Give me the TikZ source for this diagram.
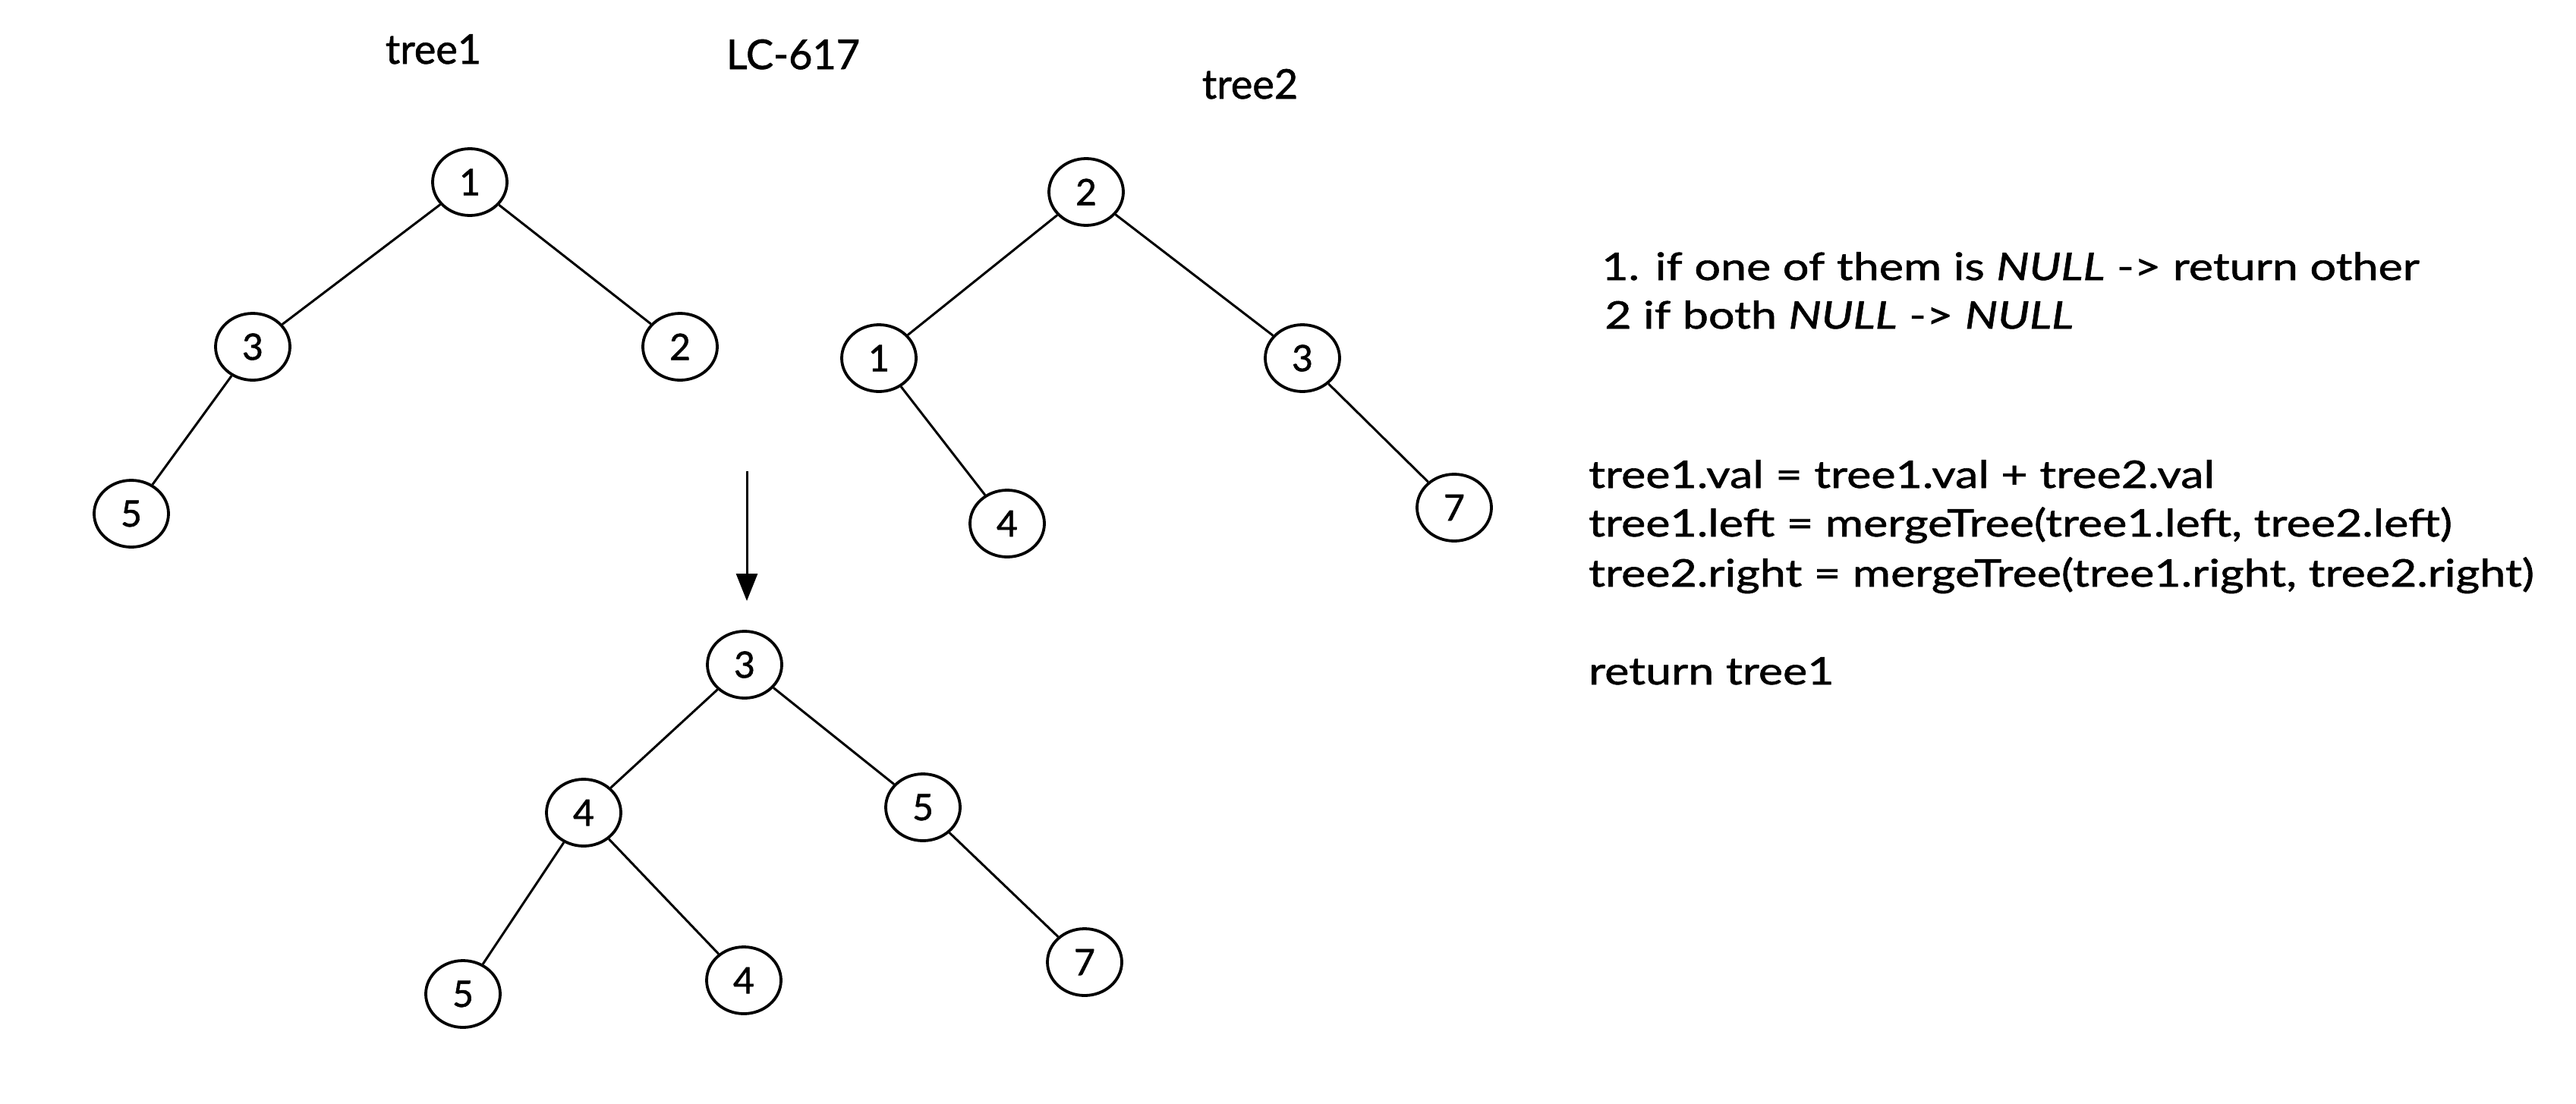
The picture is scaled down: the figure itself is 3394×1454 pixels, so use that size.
\documentclass[tikz,border=0pt]{standalone}
\usepackage{fontspec}
\setmainfont{Lato}[FakeBold=1.2]
\newfontfamily\codefont{Lato}[FakeStretch=1.22,FakeBold=1.2]
\usetikzlibrary{arrows.meta,shapes.geometric}
\begin{document}
\begin{tikzpicture}[x=1pt,y=-1pt,
  tn/.style={draw, ellipse, line width=3.8pt, minimum width=98pt, minimum height=88pt, inner sep=0pt, font=\fontsize{48}{52}\selectfont},
  edge/.style={line width=3pt},
  lbl/.style={font=\fontsize{54}{60}\selectfont, anchor=base},
  code/.style={font=\codefont\fontsize{50}{56}\selectfont, anchor=base west, inner sep=0pt}]
\useasboundingbox[fill=white] (0,0) rectangle (3394,1454);
% titles
\node[lbl] (t1lbl) at (571,84) {tree1};
\node[lbl] (lc) at (1045,91) {LC-617};
\node[lbl] (t2lbl) at (1647,130) {tree2};
% tree1
\node[tn] (a1) at (619,240) {1};
\node[tn] (a3) at (333,457) {3};
\node[tn] (a2) at (896,457) {2};
\node[tn] (a5) at (173,677) {5};
\draw[edge] (a1) -- (a3);
\draw[edge] (a1) -- (a2);
\draw[edge] (a3) -- (a5);
% tree2
\node[tn] (b2) at (1431,253) {2};
\node[tn] (b1) at (1158,472) {1};
\node[tn] (b3) at (1716,472) {3};
\node[tn] (b4) at (1327,690) {4};
\node[tn] (b7) at (1916,669) {7};
\draw[edge] (b2) -- (b1);
\draw[edge] (b2) -- (b3);
\draw[edge] (b1) -- (b4);
\draw[edge] (b3) -- (b7);
% arrow
\coordinate (arrs) at (984,621);
\node[tn] (c3) at (981,876) {3};
\draw[edge, -{Triangle[length=36pt,width=28pt]}] (arrs) -- (984,792) coordinate (arre);
% merged
\node[tn] (c4) at (769,1071) {4};
\node[tn] (c5) at (1216,1064) {5};
\node[tn] (c55) at (610,1310) {5};
\node[tn] (c44) at (980,1292) {4};
\node[tn] (c7) at (1429,1268) {7};
\draw[edge] (c3) -- (c4);
\draw[edge] (c3) -- (c5);
\draw[edge] (c4) -- (c55);
\draw[edge] (c4) -- (c44);
\draw[edge] (c5) -- (c7);
% notes
\node[code] (l1) at (2110,369) {1. if one of them is \textit{NULL} -> return other};
\node[code] (l2) at (2114,433) {2 if both \textit{NULL} -> \textit{NULL}};
\node[code] (l3) at (2093,643) {tree1.val = tree1.val + tree2.val};
\node[code] (l4) at (2093,707) {tree1.left = mergeTree(tree1.left, tree2.left)};
\node[code] (l5) at (2093,773) {tree2.right = mergeTree(tree1.right, tree2.right)};
\node[code] (l6) at (2093,902) {return tree1};
\end{tikzpicture}
\end{document}
